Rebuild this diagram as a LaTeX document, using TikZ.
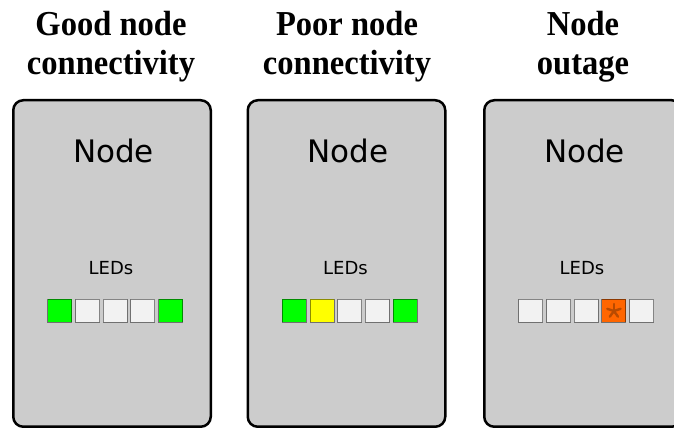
\documentclass[tikz,border=0pt]{standalone}
\usepackage{fontspec}
\usetikzlibrary{positioning}
\newfontfamily\titlefont{Liberation Serif}[FakeStretch=0.93]
\newfontfamily\labelfont{DejaVu Sans}
\definecolor{panelgray}{HTML}{CCCCCC}
\definecolor{ledoff}{HTML}{F2F2F2}
\definecolor{ledgreen}{HTML}{00FF00}
\definecolor{ledyellow}{HTML}{FFFF00}
\definecolor{ledorange}{HTML}{FF6600}
\definecolor{starcol}{HTML}{B84A00}

\begin{document}
\begin{tikzpicture}[x=1pt, y=1pt,
  panel/.style={draw, line width=2.5pt, rounded corners=10pt, fill=panelgray, minimum width=197.5pt, minimum height=326.5pt, inner sep=0pt},
  heading/.style={font=\titlefont\bfseries\fontsize{35}{39}\selectfont, align=center, anchor=base, inner sep=0pt},
  nodelbl/.style={font=\labelfont\fontsize{31}{31}\selectfont, anchor=base, inner sep=0pt},
  ledlbl/.style={font=\labelfont\fontsize{18}{18}\selectfont, anchor=base, inner sep=0pt},
  led/.style={draw=black, draw opacity=0.45, line width=1pt, minimum width=24pt, minimum height=23pt, inner sep=0pt, fill=ledoff}
]
\useasboundingbox (0,0) rectangle (674,430);

% Panels
\node[panel] (good) at (112,166.5) {};
\node[panel] (poor) at (346.5,166.5) {};
\node[panel] (outage) at (583,166.5) {};

% Headings (base = last line)
\node[heading] (t-good) at (111,355) {Good node\\connectivity};
\node[heading] (t-poor) at (347,355) {Poor node\\connectivity};
\node[heading] (t-outage) at (583,355) {Node\\outage};

% Labels inside the panels
\foreach \p/\cx in {good/112, poor/346.5, outage/583} {
  \node[nodelbl] (\p-name) at (\cx+1.5,267) {Node};
  \node[ledlbl] (\p-leds) at (\cx-1,155) {LEDs};
}

% LED rows
\foreach \p/\cx/\cols in {good/112/{ledgreen,ledoff,ledoff,ledoff,ledgreen},
                          poor/346.5/{ledgreen,ledyellow,ledoff,ledoff,ledgreen},
                          outage/583/{ledoff,ledoff,ledoff,ledorange,ledoff}} {
  \foreach \c [count=\i] in \cols
    \node[led, fill=\c] (\p-\i) at (\cx-52.2+27.7*\i-27.7,119) {};
}

% Failed LED mark
\foreach \a in {90,162,234,306,18}
  \draw[starcol, line width=2.4pt, line cap=round] (outage-4.center) -- ++(\a:7);

\end{tikzpicture}
\end{document}
